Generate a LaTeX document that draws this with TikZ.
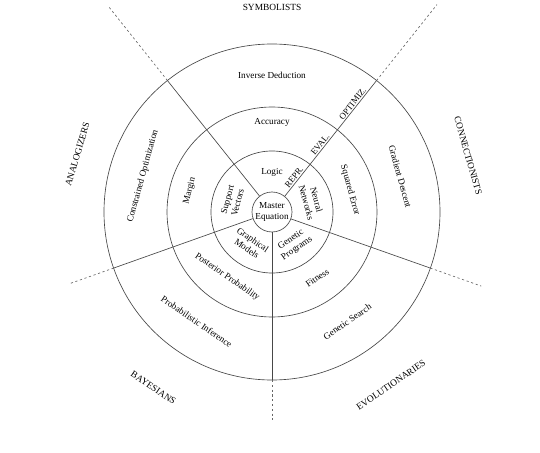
\documentclass[tikz,border=0pt]{standalone}
\usepackage{fontspec}
\setmainfont{Liberation Serif}
\begin{document}
\begin{tikzpicture}[x=1pt,y=1pt,
  ring/.style={draw=black!72, line width=0.65pt},
  spoke/.style={draw=black!72, line width=0.65pt},
  ext/.style={draw=black!60, line width=0.65pt, dash pattern=on 2.2pt off 2.6pt},
  lab/.style={font=\fontsize{9.2}{10.6}\selectfont, align=center, inner sep=0pt},
  tribe/.style={font=\fontsize{9.4}{11}\selectfont, inner sep=0pt},
  spk/.style={font=\fontsize{8.8}{10}\selectfont, anchor=south, inner sep=1.2pt, rotate=51.5}]
\useasboundingbox (-272,-240) rectangle (268,212);
\fill[white] (-272,-240) rectangle (268,212);
% rings
\draw[ring] (0,0) circle[radius=61pt];
\draw[ring] (0,0) circle[radius=105pt];
\draw[ring] (0,0) circle[radius=168pt];
\node[circle, draw=black!72, line width=0.65pt, minimum size=40pt, inner sep=0pt, lab] (me) at (0,0) {Master\\Equation};
% spokes
\foreach \a/\r/\n in {51.5/265/ne, 128.5/263/nw, 199.5/216/w, 270/208/s, 340.5/222/e}{
  \coordinate (o\n) at (\a:168pt);
  \coordinate (d\n) at (\a:\r pt);
  \draw[spoke] (me.\a) -- (o\n);
  \draw[ext] (o\n) -- (d\n);
}
% ring 1
\node[lab] (logic) at (90:40pt) {Logic};
\node[lab, rotate=74.5] (sv) at (164.5:41pt) {Support\\Vectors};
\node[lab, rotate=-74.5] (nn) at (15.5:41pt) {Neural\\Networks};
\node[lab, rotate=-34.5] (gm) at (-124.5:39pt) {Graphical\\Models};
\node[lab, rotate=34.5] (gp) at (-55.5:39pt) {Genetic\\Programs};
% ring 2
\node[lab] (acc) at (90:90pt) {Accuracy};
\node[lab, rotate=-74.5] (se) at (15.5:81pt) {Squared Error};
\node[lab, rotate=75.5] (mar) at (165.5:85pt) {Margin};
\node[lab, rotate=-34.5] (pp) at (-124.5:79pt) {Posterior Probability};
\node[lab, rotate=34.5] (fit) at (-55.5:80pt) {Fitness};
% ring 3
\node[lab] (id) at (90:137pt) {Inverse Deduction};
\node[lab, rotate=-74.5] (gd) at (15.5:133pt) {Gradient Descent};
\node[lab, rotate=74.5] (co) at (164.5:134pt) {Constrained Optimization};
\node[lab, rotate=-34.5] (pi) at (-124.5:133pt) {Probabilistic Inference};
\node[lab, rotate=34.5] (gs) at (-55.5:133pt) {Genetic Search};
% spoke labels
\node[spk] (repr) at (51.5:41pt) {REPR.};
\node[spk] (eval) at (51.5:83pt) {EVAL.};
\node[spk] (opt) at (51.5:135pt) {OPTIMIZ.};
% tribes
\node[tribe] (sym) at (90:205pt) {SYMBOLISTS};
\node[tribe, rotate=-74] (con) at (16:204pt) {CONNECTIONISTS};
\node[tribe, rotate=73.5] (ana) at (163.5:203pt) {ANALOGIZERS};
\node[tribe, rotate=-34] (bay) at (-124:212pt) {BAYESIANS};
\node[tribe, rotate=34.5] (evo) at (-55.5:210pt) {EVOLUTIONARIES};
\end{tikzpicture}
\end{document}
